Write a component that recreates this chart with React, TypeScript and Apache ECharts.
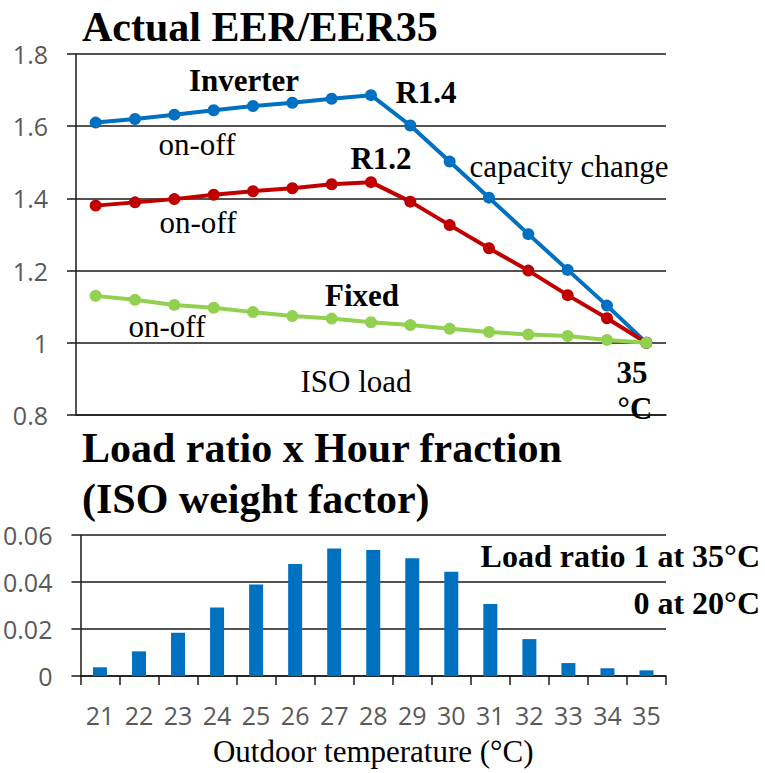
import React, { useEffect, useRef } from "react";
import * as echarts from "echarts";

// Outdoor temperature categories (°C)
const temps = ["21", "22", "23", "24", "25", "26", "27", "28", "29", "30", "31", "32", "33", "34", "35"];

// Actual EER / EER35
const inverterR14 = [1.61, 1.62, 1.632, 1.644, 1.656, 1.665, 1.676, 1.686, 1.602, 1.502, 1.402, 1.301, 1.202, 1.103, 1.0];
const inverterR12 = [1.38, 1.389, 1.398, 1.41, 1.42, 1.428, 1.439, 1.445, 1.391, 1.326, 1.262, 1.2, 1.132, 1.068, 1.0];
const fixedOnOff = [1.13, 1.119, 1.105, 1.097, 1.085, 1.074, 1.067, 1.057, 1.049, 1.039, 1.03, 1.023, 1.019, 1.008, 1.0];

// Load ratio x Hour fraction (ISO weight factor)
const isoWeight = [0.0037, 0.0105, 0.0184, 0.0291, 0.0389, 0.0477, 0.0543, 0.0536, 0.0501, 0.0444, 0.0306, 0.0157, 0.0055, 0.0033, 0.0024];

// Annotations
const annotations = [
  { text: "Inverter", bold: true, x: 244, y: 80 },
  { text: "R1.4", bold: true, x: 426, y: 92 },
  { text: "on-off", bold: false, x: 197, y: 144 },
  { text: "R1.2", bold: true, x: 381, y: 158 },
  { text: "capacity change", bold: false, x: 569, y: 166 },
  { text: "on-off", bold: false, x: 198, y: 222 },
  { text: "Fixed", bold: true, x: 362, y: 295 },
  { text: "on-off", bold: false, x: 167, y: 326 },
  { text: "ISO load", bold: false, x: 356, y: 381 },
  { text: "35", bold: true, x: 632, y: 372 },
  { text: "°C", bold: true, x: 635, y: 408 },
];

const SERIF = "'Liberation Serif', 'Times New Roman', serif";
const SANS = "'Open Sans', 'Liberation Sans', sans-serif";
const GRID_COLOR = "#1a1a1a";
const LABEL_COLOR = "#595959";

function textEl(text: string, x: number, y: number, size: number, bold: boolean, align: string) {
  return {
    type: "text",
    x,
    y,
    z: 100,
    style: {
      text,
      fontSize: size,
      fontFamily: SERIF,
      fontWeight: bold ? "bold" : "normal",
      fill: "#000",
      align,
      textAlign: align,
      verticalAlign: "middle",
      textVerticalAlign: "middle",
    },
  };
}

export default function App() {
  const ref = useRef<HTMLDivElement>(null);

  useEffect(() => {
    if (!ref.current) return;
    const chart = echarts.init(ref.current, undefined, { renderer: "svg" });

    const yAxisCommon = {
      axisLine: { show: true, lineStyle: { color: GRID_COLOR, width: 1.5 } },
      axisTick: { show: true, length: 9, lineStyle: { color: GRID_COLOR, width: 1.5 } },
      splitLine: { show: true, lineStyle: { color: GRID_COLOR, width: 1.5 } },
      axisLabel: { color: LABEL_COLOR, fontSize: 25, fontFamily: SANS, margin: 28 },
    };

    const option = {
      animation: false,
      backgroundColor: "#fff",
      grid: [
        { left: 76, right: 99, top: 54, bottom: 358 },
        { left: 76, right: 99, top: 535, bottom: 97 },
      ],
      xAxis: [
        {
          type: "category",
          gridIndex: 0,
          data: temps,
          boundaryGap: true,
          axisLine: { show: true, lineStyle: { color: GRID_COLOR, width: 1.5 } },
          axisTick: { show: false },
          axisLabel: { show: false },
        },
        {
          type: "category",
          gridIndex: 1,
          data: temps,
          boundaryGap: true,
          axisLine: { show: true, lineStyle: { color: GRID_COLOR, width: 1.5 } },
          axisTick: { show: true, length: 9, lineStyle: { color: GRID_COLOR, width: 1.5 } },
          axisLabel: { color: LABEL_COLOR, fontSize: 25, fontFamily: SANS, margin: 26 },
          name: "Outdoor temperature (°C)",
          nameLocation: "middle",
          nameGap: 60,
          nameTextStyle: { color: "#000", fontSize: 31, fontFamily: SERIF },
        },
      ],
      yAxis: [
        { type: "value", gridIndex: 0, min: 0.8, max: 1.8, interval: 0.2, ...yAxisCommon },
        { type: "value", gridIndex: 1, min: 0, max: 0.06, interval: 0.02, ...yAxisCommon },
      ],
      series: [
        {
          name: "Inverter R1.4",
          type: "line",
          xAxisIndex: 0,
          yAxisIndex: 0,
          data: inverterR14,
          symbol: "circle",
          symbolSize: 12,
          lineStyle: { color: "#0070C0", width: 4 },
          itemStyle: { color: "#0070C0" },
          z: 2,
        },
        {
          name: "Inverter R1.2",
          type: "line",
          xAxisIndex: 0,
          yAxisIndex: 0,
          data: inverterR12,
          symbol: "circle",
          symbolSize: 12,
          lineStyle: { color: "#C00000", width: 4 },
          itemStyle: { color: "#C00000" },
          z: 3,
        },
        {
          name: "Fixed",
          type: "line",
          xAxisIndex: 0,
          yAxisIndex: 0,
          data: fixedOnOff,
          symbol: "circle",
          symbolSize: 12,
          lineStyle: { color: "#92D050", width: 4 },
          itemStyle: { color: "#92D050" },
          z: 4,
        },
        {
          name: "ISO weight factor",
          type: "bar",
          xAxisIndex: 1,
          yAxisIndex: 1,
          data: isoWeight,
          barWidth: 14,
          itemStyle: { color: "#0070C0" },
        },
      ],
      graphic: [
        textEl("Actual EER/EER35", 82, 27, 42, true, "left"),
        textEl("Load ratio x Hour fraction", 82, 448, 42, true, "left"),
        textEl("(ISO weight factor)", 82, 499, 42, true, "left"),
        textEl("Load ratio 1 at 35°C", 760, 556, 32, true, "right"),
        textEl("0 at 20°C", 760, 603, 32, true, "right"),
        ...annotations.map((a) => textEl(a.text, a.x, a.y, 31, a.bold, "center")),
      ],
    };

    chart.setOption(option as any);
    return () => chart.dispose();
  }, []);

  return (
    <div
      ref={ref}
      style={{ position: "fixed", left: 0, top: 0, width: 765, height: 773, background: "#fff" }}
    />
  );
}
